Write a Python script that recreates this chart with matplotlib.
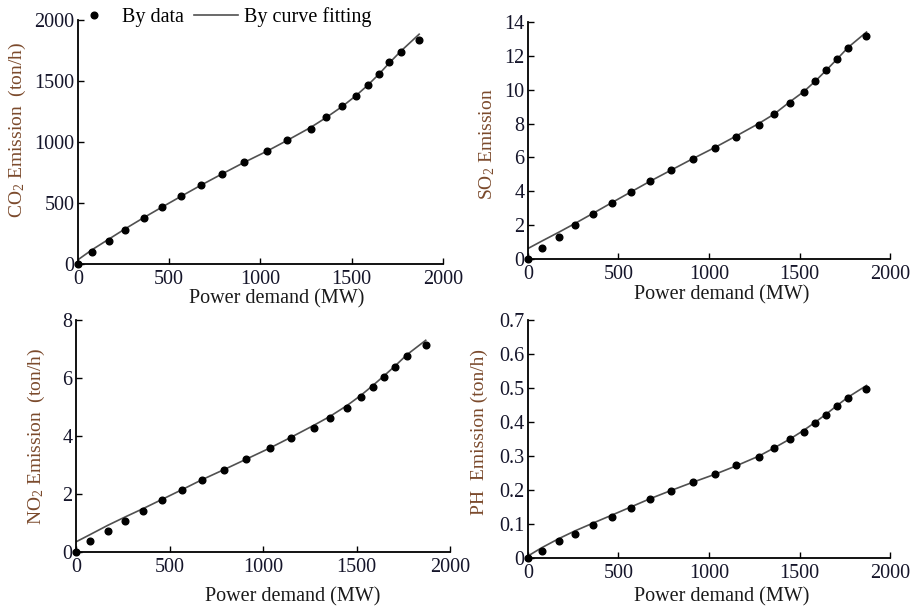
import matplotlib.pyplot as plt
import numpy as np

plt.rcParams['font.family'] = ['Liberation Serif', 'DejaVu Serif']
plt.rcParams['mathtext.fontset'] = 'custom'
plt.rcParams['mathtext.rm'] = 'Liberation Serif'
plt.rcParams['mathtext.it'] = 'Liberation Serif:italic'

# measured operating points (MW)
power = [0, 75, 170, 260, 360, 462, 567, 676, 791, 910, 1035, 1148, 1275,
         1359, 1449, 1523, 1587, 1648, 1707, 1769, 1869]

co2 = [0, 98, 191, 281, 374, 464, 557, 650, 740, 833, 923, 1019, 1109,
       1202, 1292, 1377, 1470, 1560, 1653, 1740, 1836]
so2 = [0, 0.65, 1.32, 1.99, 2.64, 3.31, 3.96, 4.63, 5.24, 5.91, 6.56, 7.22,
       7.89, 8.56, 9.21, 9.88, 10.49, 11.14, 11.79, 12.48, 13.15]
no2 = [0, 0.38, 0.72, 1.07, 1.41, 1.80, 2.14, 2.49, 2.83, 3.19, 3.57, 3.93,
       4.28, 4.63, 4.98, 5.36, 5.70, 6.05, 6.39, 6.75, 7.14]
ph = [0, 0.022, 0.049, 0.072, 0.098, 0.121, 0.147, 0.174, 0.197, 0.223,
      0.248, 0.273, 0.297, 0.323, 0.350, 0.372, 0.399, 0.422, 0.448, 0.471,
      0.498]

# fitted curves
fit_power = [0, 75, 170, 260, 360, 462, 567, 676, 791, 910, 1035, 1148, 1275,
             1359, 1449, 1523, 1587, 1648, 1707, 1769, 1870]
co2_fit = [35, 115, 205, 290, 380, 468, 557, 648, 740, 833, 925, 1015, 1120,
           1200, 1293, 1380, 1465, 1555, 1650, 1745, 1885]
so2_fit = [0.62, 1.05, 1.58, 2.10, 2.70, 3.32, 3.95, 4.60, 5.25, 5.92, 6.60,
           7.25, 8.00, 8.55, 9.30, 9.88, 10.50, 11.15, 11.80, 12.50, 13.40]
no2_fit = [0.35, 0.60, 0.92, 1.20, 1.50, 1.82, 2.15, 2.50, 2.84, 3.20, 3.58,
           3.95, 4.38, 4.68, 5.05, 5.40, 5.74, 6.08, 6.42, 6.80, 7.30]
ph_fit = [0.006, 0.030, 0.057, 0.080, 0.103, 0.126, 0.150, 0.175, 0.199,
          0.223, 0.247, 0.271, 0.300, 0.324, 0.351, 0.376, 0.400, 0.424,
          0.449, 0.474, 0.508]

x_ticks = [0, 500, 1000, 1500, 2000]
co2_ticks = [0, 500, 1000, 1500, 2000]
so2_ticks = [0, 2, 4, 6, 8, 10, 12, 14]
no2_ticks = [0, 2, 4, 6, 8]
ph_ticks = [0, 0.1, 0.2, 0.3, 0.4, 0.5, 0.6, 0.7]
ph_tick_labels = ['0', '0.1', '0.2', '0.3', '0.4', '0.5', '0.6', '0.7']

tick_col = '#15152a'
ylab_col = '#7b4a2c'
fs = 14.5

fig = plt.figure(figsize=(9.19, 6.08), dpi=100)

panels = [
    # rect, data, fit, yticks, ylabels, ylabel, ylabel pos, xlabel pos
    ([0.0849, 0.5658, 0.397, 0.401], co2, co2_fit, co2_ticks, None,
     'CO$_2$ Emission  (ton/h)', (-0.137, 0.55), (0.545, -0.102)),
    ([0.5745, 0.574, 0.394, 0.390], so2, so2_fit, so2_ticks, None,
     'SO$_2$ Emission', (-0.086, 0.485), (0.536, -0.110)),
    ([0.0827, 0.0921, 0.407, 0.3816], no2, no2_fit, no2_ticks, None,
     'NO$_2$ Emission  (ton/h)', (-0.078, 0.5), (0.58, -0.151)),
    ([0.5745, 0.0822, 0.394, 0.391], ph, ph_fit, ph_ticks, ph_tick_labels,
     'PH  Emission (ton/h)', (-0.11, 0.53), (0.536, -0.122)),
]

for rect, y, yfit, yt, ytl, ylab, ylpos, xlpos in panels:
    ax = fig.add_axes(rect)
    ax.plot(fit_power, yfit, color='#505050', lw=1.2, zorder=2,
            label='By curve fitting')
    ax.plot(power, y, 'o', color='black', ms=4.8, zorder=3, clip_on=False,
            label='By data')
    ax.set_xlim(0, 2000)
    ax.set_ylim(yt[0], yt[-1])
    ax.set_xticks(x_ticks)
    ax.set_yticks(yt)
    if ytl is not None:
        ax.set_yticklabels(ytl)
    ax.spines['right'].set_color('none')
    ax.spines['top'].set_color('none')
    ax.spines['left'].set_linewidth(1.3)
    ax.spines['bottom'].set_linewidth(1.3)
    ax.tick_params(direction='in', length=4, width=1, labelsize=fs,
                   labelcolor=tick_col)
    ax.tick_params(axis='x', pad=4)
    ax.tick_params(axis='y', pad=2.5)
    ax.set_xlabel('Power demand (MW)', fontsize=fs, color='#1a1a1a')
    ax.xaxis.set_label_coords(*xlpos)
    ax.set_ylabel(ylab, fontsize=14, color=ylab_col)
    ax.yaxis.set_label_coords(*ylpos)
    if ylab.startswith('CO'):
        h, l = ax.get_legend_handles_labels()
        fig.legend(h[::-1], l[::-1], loc='center left', ncol=2,
                   bbox_to_anchor=(0.078, 1 - 17 / 608), frameon=False,
                   fontsize=fs, handlelength=2.2, handletextpad=0.3,
                   columnspacing=0.5, borderpad=0, borderaxespad=0)

fig.savefig('out.png', dpi=100)
